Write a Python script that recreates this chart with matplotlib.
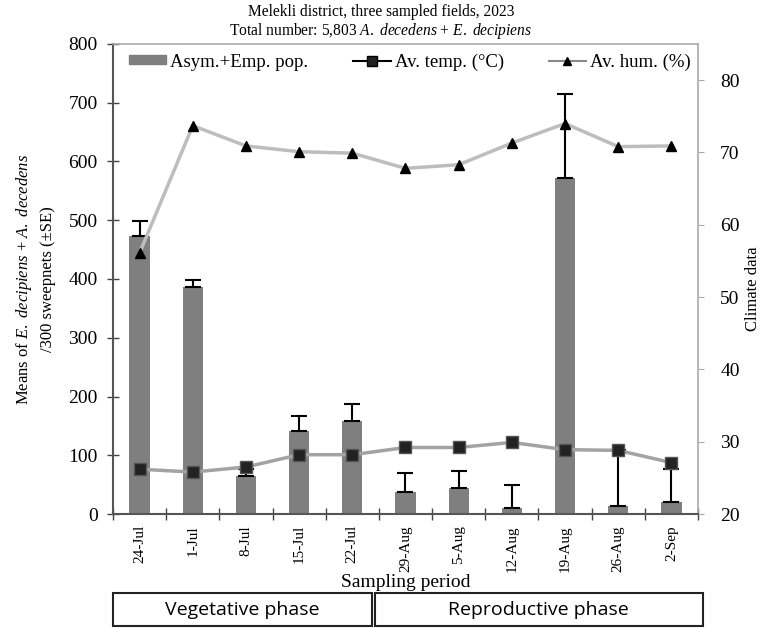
import matplotlib.pyplot as plt
import numpy as np
from matplotlib.patches import Patch, Rectangle
from matplotlib.lines import Line2D

plt.rcParams['font.family'] = 'Liberation Serif'
plt.rcParams['mathtext.fontset'] = 'custom'
plt.rcParams['mathtext.rm'] = 'Liberation Serif'
plt.rcParams['mathtext.it'] = 'Liberation Serif:italic'

# sampling dates and counts
dates = ['24-Jul', '1-Jul', '8-Jul', '15-Jul', '22-Jul', '29-Aug',
         '5-Aug', '12-Aug', '19-Aug', '26-Aug', '2-Sep']
pop = [474, 386, 64, 142, 158, 38, 44, 11, 572, 13, 20]
pop_se = [24, 12, 12, 24, 30, 32, 29, 38, 143, 96, 57]

# climate
temp = [26.2, 25.8, 26.5, 28.2, 28.2, 29.2, 29.2, 29.9, 28.9, 28.8, 27.1]
hum = [56.1, 73.7, 70.9, 70.1, 69.9, 67.8, 68.3, 71.3, 74.0, 70.8, 70.9]

phases = ['Vegetative phase', 'Reproductive phase']

bar_c = '#7f7f7f'
temp_c = '#a3a3a3'
hum_c = '#bdbdbd'

fig = plt.figure(figsize=(7.62, 6.28), dpi=100)
ax = fig.add_axes([0.1483, 0.1815, 0.7677, 0.7485])
x = np.arange(len(dates))

ax.bar(x, pop, width=0.38, color=bar_c, zorder=2,
       yerr=[np.zeros(len(pop)), pop_se],
       error_kw=dict(ecolor='black', elinewidth=1.5, capsize=6, capthick=1.5))
ax.set_xlim(-0.5, len(dates) - 0.5)
ax.set_ylim(0, 800)
ax.set_yticks(range(0, 801, 100))
ax.tick_params(axis='y', direction='inout', length=8, width=1, colors='#444444',
               labelsize=14, labelcolor='black', pad=7)
ax.set_xticks(x)
ax.set_xticklabels(dates, rotation=90, fontsize=11)
ax.tick_params(axis='x', length=0, pad=8)
ax.set_xticks(np.arange(-0.5, len(dates), 1), minor=True)
ax.tick_params(axis='x', which='minor', direction='inout', length=8, width=1,
               colors='#444444')
ax.set_xlabel('Sampling period', fontsize=14, labelpad=2)
ax.set_ylabel('Means of $E.$ $decipiens$ + $A.$ $decedens$\n/300 sweepnets (±SE)',
              fontsize=12, linespacing=1.5)
ax.yaxis.set_label_coords(-0.097, 0.5)
for s in ['left', 'bottom']:
    ax.spines[s].set_color('#555555')
    ax.spines[s].set_linewidth(1.5)
for s in ['top', 'right']:
    ax.spines[s].set_color('#aaaaaa')
    ax.spines[s].set_linewidth(1.2)

ax2 = ax.twinx()
ax2.plot(x, temp, color=temp_c, lw=2.5, marker='s', ms=8, mfc='#222222',
         mec='#555555', zorder=3)
ax2.plot(x, hum, color=hum_c, lw=2.5, marker='^', ms=7, mfc='black',
         mec='black', zorder=3)
ax2.set_ylim(20, 85)
ax2.set_yticks(range(20, 81, 10))
ax2.tick_params(axis='y', length=4, colors='#aaaaaa', labelsize=14,
                labelcolor='black', pad=12)
ax2.set_ylabel('Climate data', fontsize=12)
ax2.yaxis.set_label_coords(1.08, 0.48)
for s in ax2.spines.values():
    s.set_visible(False)

handles = [Patch(facecolor=bar_c, edgecolor=bar_c),
           Line2D([], [], color='black', lw=1.5, marker='s', ms=7, mfc='#222222'),
           Line2D([], [], color='#888888', lw=1.5, marker='^', ms=6, mfc='black', mec='black')]
labels = ['Asym.+Emp. pop.', 'Av. temp. (°C)', 'Av. hum. (%)']
ax2.legend(handles, labels, loc='upper left', bbox_to_anchor=(0.0, 1.014), ncol=3,
           frameon=False, fontsize=13.5, columnspacing=2.4, handlelength=2.0,
           handleheight=0.35, handletextpad=0.2, borderaxespad=0.45)

fig.text(0.5, 0.981, 'Melekli district, three sampled fields, 2023',
         ha='center', va='center', fontsize=11.2)
fig.text(0.5, 0.951, 'Total number: 5,803 $A.$ $decedens$ + $E.$ $decipiens$',
         ha='center', va='center', fontsize=11.2)

# phase boxes under the axis
boxes = [(0.1478, 0.4880), (0.4921, 0.9222)]
for (x0, x1), name in zip(boxes, phases):
    fig.add_artist(Rectangle((x0, 0.0025), x1 - x0, 0.0535, transform=fig.transFigure,
                             fill=False, edgecolor='#222222', lw=1.5))
    fig.text((x0 + x1) / 2, 0.029, name, ha='center', va='center',
             fontsize=14, family='Open Sans')

fig.savefig('out.png', dpi=100)
